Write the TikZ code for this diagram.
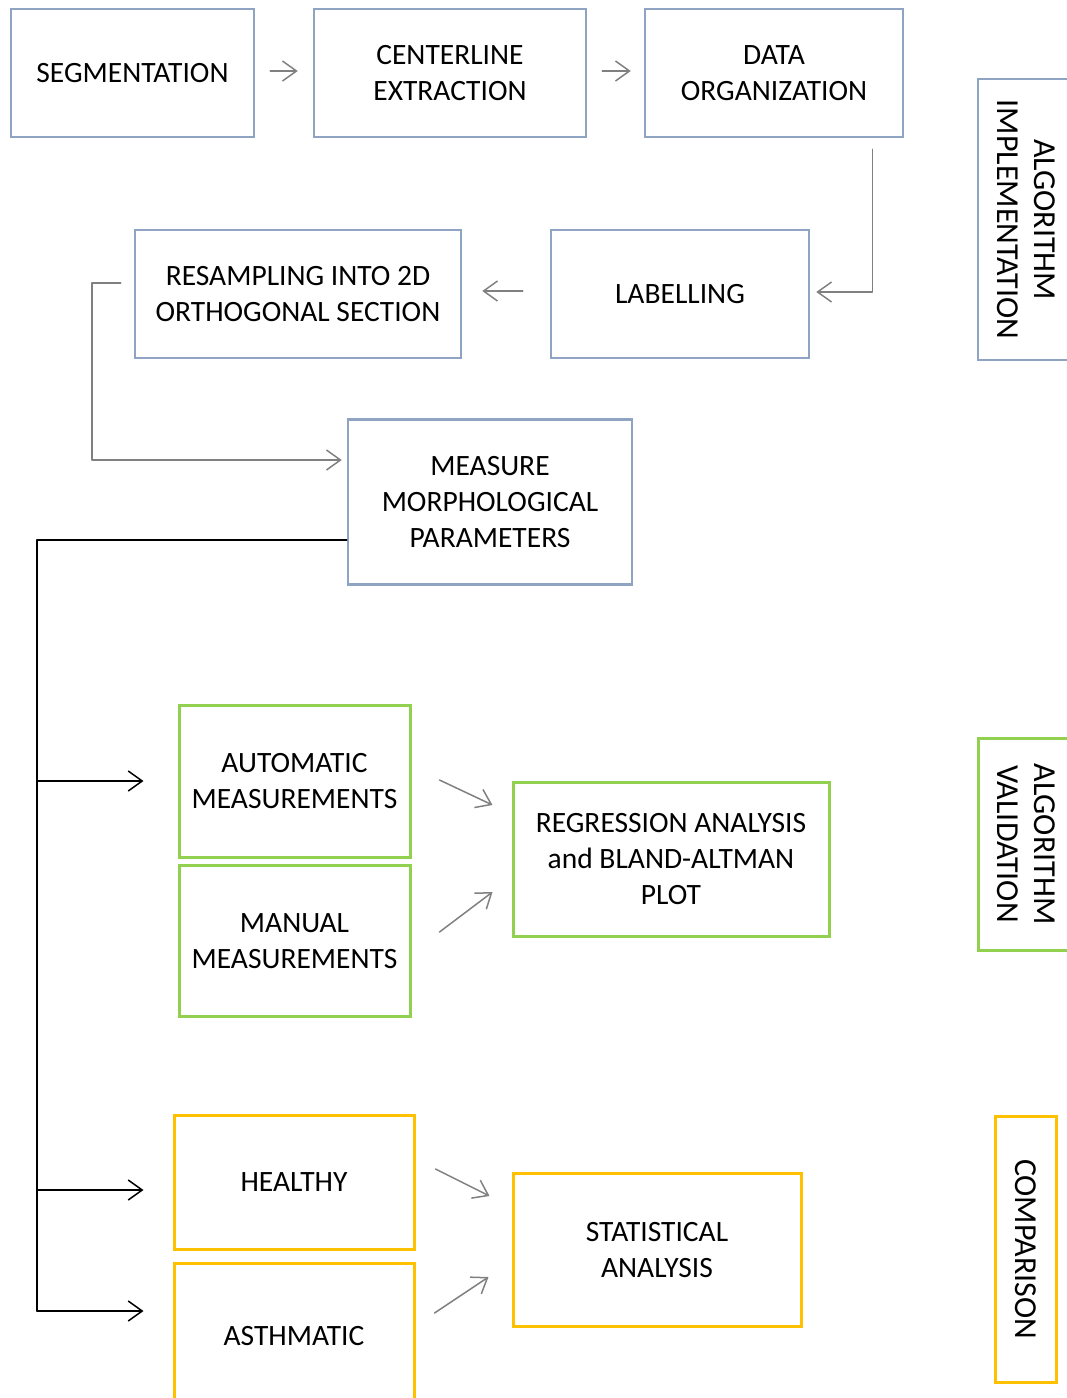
\documentclass[tikz,border=0pt]{standalone}
\usepackage{fontspec}
\setmainfont{Carlito}
\usepackage{tikz}
\usetikzlibrary{arrows.meta}
\definecolor{boxblue}{RGB}{143,164,194}
\definecolor{boxgreen}{RGB}{146,208,80}
\definecolor{boxyellow}{RGB}{255,192,0}
\definecolor{arrgray}{RGB}{128,128,128}

\begin{document}
\begin{tikzpicture}[line cap=round,line join=round,x=1pt,y=-1pt,
box/.style={draw,line width=2.5pt,align=center,inner sep=0pt,line cap=butt,line join=miter,font=\fontsize{29.5}{36}\selectfont},
bluebox/.style={box,draw=boxblue},
greenbox/.style={box,draw=boxgreen,line width=3pt},
yellowbox/.style={box,draw=boxyellow,line width=3pt},
sidebox/.style={rotate=-90,font=\fontsize{32}{37}\selectfont},
garrow/.style={draw=arrgray,line width=1.5pt,-{Straight Barb[length=14pt,width=20pt]}},
barrow/.style={draw=black,line width=1.5pt,-{Straight Barb[length=14pt,width=20pt]}},
bline/.style={draw=black,line width=1.5pt}]
\useasboundingbox (0,0) rectangle (1067,1398);
\clip (0,0) rectangle (1067,1398);
\node[bluebox,minimum width=243pt,minimum height=128pt] (seg) at (132.5,73) {SEGMENTATION};
\node[bluebox,minimum width=272pt,minimum height=128pt] (cent) at (450,73) {CENTERLINE\\EXTRACTION};
\node[bluebox,minimum width=258pt,minimum height=128pt] (data) at (774,73) {DATA\\ORGANIZATION};
\node[bluebox,minimum width=258pt,minimum height=128pt] (lab) at (680,294) {LABELLING};
\node[bluebox,minimum width=326pt,minimum height=128pt] (res) at (298,294) {RESAMPLING INTO 2D\\ORTHOGONAL SECTION};
\node[bluebox,minimum width=284pt,minimum height=165pt] (meas) at (490,502) {MEASURE\\MORPHOLOGICAL\\PARAMETERS};
\node[greenbox,minimum width=231pt,minimum height=152pt] (auto) at (294.5,781) {AUTOMATIC\\MEASUREMENTS};
\node[greenbox,minimum width=231pt,minimum height=151pt] (man) at (294.5,941) {MANUAL\\MEASUREMENTS};
\node[greenbox,minimum width=316pt,minimum height=154pt] (reg) at (671,859) {REGRESSION ANALYSIS\\and BLAND-ALTMAN\\PLOT};
\node[yellowbox,minimum width=240pt,minimum height=134pt] (hea) at (294,1182) {HEALTHY};
\node[yellowbox,minimum width=240pt,minimum height=145pt] (ast) at (294,1336) {ASTHMATIC};
\node[yellowbox,minimum width=288pt,minimum height=153pt] (stat) at (657,1250) {STATISTICAL\\ANALYSIS};
\node[bluebox,sidebox,minimum width=281pt,minimum height=97pt] (impl) at (1026.5,219.5) {ALGORITHM\\IMPLEMENTATION};
\node[greenbox,sidebox,minimum width=212pt,minimum height=97pt] (vali) at (1026.5,844) {ALGORITHM\\VALIDATION};
\node[yellowbox,sidebox,minimum width=266pt,minimum height=61pt] (comp) at (1025.5,1249) {COMPARISON};
\draw[garrow] ([shift={(15,-2)}]seg.east)-- ([shift={(-15,-2)}]cent.west);
\draw[garrow] ([shift={(15,-2)}]cent.east)-- ([shift={(-13,-2)}]data.west);
\draw[garrow] ([shift={(-32,11)}]data.south east) |- ([xshift=6pt,yshift=2pt]lab.east);
\draw[garrow] ([shift={(-27,-3)}]lab.west)-- ([shift={(20,-3)}]res.east);
\draw[garrow] ([shift={(-13,-11)}]res.west)-- ++(-29,0) |- ([shift={(-5,-42)}]meas.west);
\coordinate (trunktop) at (37,540);
\coordinate (trunkbot) at (37,1311);
\draw[bline] ([yshift=-38pt]meas.west)-- (trunktop)-- (trunkbot);
\draw[barrow] (trunktop|-auto.west)-- ([xshift=-34pt]auto.west);
\draw[barrow] ([yshift=-8pt]trunktop|-hea.west)-- ([shift={(-29,8)}]hea.west);
\draw[barrow] (trunkbot)-- ([shift={(-29,-25)}]ast.west);
\draw[garrow] ([shift={(28,-1)}]auto.east)-- ([shift={(-19,-54)}]reg.west);
\draw[garrow] ([shift={(28,-9)}]man.east)-- ([shift={(-19,33)}]reg.west);
\draw[garrow] ([shift={(20,-13)}]hea.east)-- ([shift={(-22,-54)}]stat.west);
\draw[garrow] ([shift={(19,-23)}]ast.east)-- ([shift={(-23,27)}]stat.west);
\end{tikzpicture}
\end{document}
